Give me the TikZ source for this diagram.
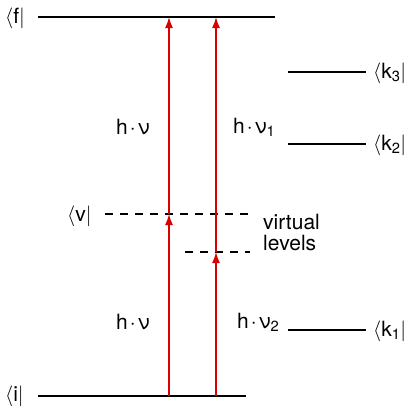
\documentclass[tikz,border=0pt]{standalone}
\usepackage{fontspec}
\setmainfont{TeX Gyre Heros}
\usetikzlibrary{arrows.meta}
\begin{document}
\begin{tikzpicture}[x=1pt,y=-1pt,
  level/.style={line width=1.8pt,black},
  vlevel/.style={line width=1.3pt,black,dash pattern=on 8pt off 7pt},
  photon/.style={line width=1.5pt,red!85!black,-{Latex[length=11pt,width=8pt]}},
  lbl/.style={font=\fontsize{21}{24}\selectfont,inner sep=0pt},
  bra/.style={lbl,anchor=west}]
\useasboundingbox (0,0) rectangle (411,407);
% levels
\coordinate (f1) at (38,17); \coordinate (f2) at (275,17);
\coordinate (i1) at (38,396); \coordinate (i2) at (246,396);
\coordinate (v1) at (105,214); \coordinate (v2) at (250,214);
\coordinate (w1) at (185,252); \coordinate (w2) at (250,252);
\coordinate (k31) at (288,72); \coordinate (k32) at (366,72);
\coordinate (k21) at (288,144); \coordinate (k22) at (366,144);
\coordinate (k11) at (288,330); \coordinate (k12) at (366,330);
\draw[level] (f1) -- (f2);
\draw[level] (i1) -- (i2);
\draw[level] (k31) -- (k32);
\draw[level] (k21) -- (k22);
\draw[level] (k11) -- (k12);
\draw[vlevel] (v1) -- (v2);
\draw[vlevel] (w1) -- (w2);
% labels
\node[bra] (lf) at (5,18) {$\langle$f$|$};
\node[bra] (li) at (5,396) {$\langle$i$|$};
\node[bra] (lv) at (67,216) {$\bigl\langle$v$\bigr|$};
\node[bra] (lk3) at (373,73) {$\langle$k\textsubscript{3}$|$};
\node[bra] (lk2) at (373,145) {$\langle$k\textsubscript{2}$|$};
\node[bra] (lk1) at (373,331) {$\langle$k\textsubscript{1}$|$};
\node[lbl,anchor=west] (virt) at (263,222) {virtual};
\node[lbl,anchor=west] (levs) at (263,243) {levels};
\node[lbl,anchor=west] (hn1) at (116,127) {h\kern2pt·\kern2ptν};
\node[lbl,anchor=west] (hn11) at (233,127) {h\kern2pt·\kern2ptν\textsubscript{1}};
\node[lbl,anchor=west] (hn2) at (116,322) {h\kern2pt·\kern2ptν};
\node[lbl,anchor=west] (hn22) at (237,322) {h\kern2pt·\kern2ptν\textsubscript{2}};
% photons
\coordinate (a0) at (169,396); \coordinate (a1) at (169,214); \coordinate (a2) at (169,17);
\coordinate (b0) at (216,396); \coordinate (b1) at (216,252); \coordinate (b2) at (216,17);
\draw[photon] (a0) -- (a1);
\draw[photon] (a1) -- (a2);
\draw[photon] (b0) -- (b1);
\draw[photon] (b1) -- (b2);
\end{tikzpicture}
\end{document}
